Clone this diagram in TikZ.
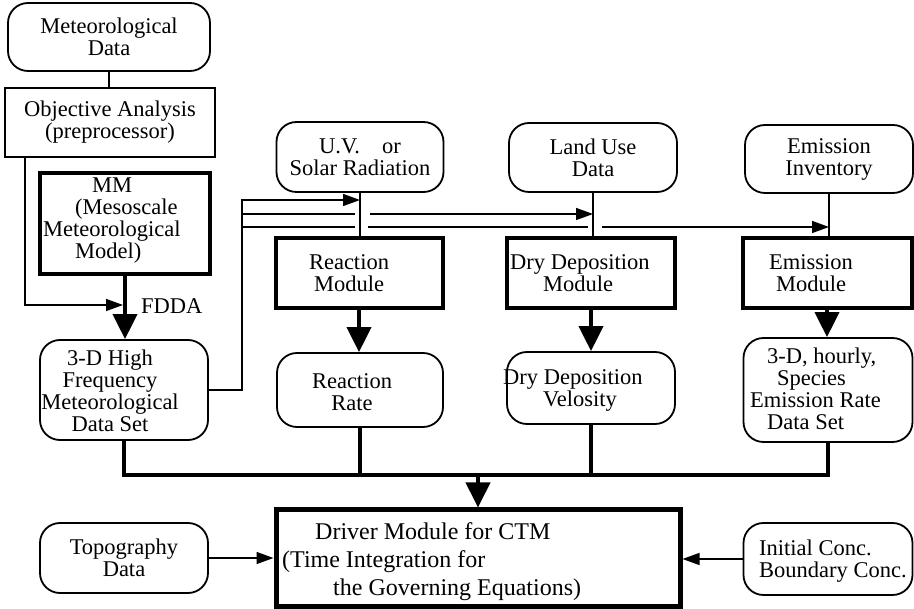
\documentclass[tikz,border=0pt]{standalone}
\usepackage{fontspec}
\setmainfont{Liberation Serif}
\usetikzlibrary{arrows.meta}
\begin{document}
\begin{tikzpicture}[x=1pt,y=-1pt]
\tikzset{
 base/.style={font=\fontsize{22.5}{22}\selectfont, align=center, inner sep=0pt},
 rbox/.style={base, draw, line width=1.8pt, rounded corners=20pt},
 tbox/.style={base, draw, line width=4pt},
 pbox/.style={base, draw, line width=1.6pt},
 txt/.style={base, align=left, anchor=west},
 thinl/.style={line width=1.5pt},
 thickl/.style={line width=4pt},
 tarr/.style={thinl, -{Triangle[length=17pt,width=12pt]}},
 Tarr/.style={thickl, -{Triangle[length=25pt,width=24pt]}},
}
\useasboundingbox (0,0) rectangle (914,609);
% left column
\node[rbox, minimum width=202pt, minimum height=68pt] (met) at (109,37) {Meteorological\\Data};
\node[pbox, minimum width=210pt, minimum height=69pt] (obj) at (110,122.5) {Objective Analysis\\(preprocessor)};
\node[tbox, minimum width=170pt, minimum height=101pt] (mm) at (125,223.5) {};
\node[txt] (mmt) at (43,221) {\hspace*{49pt}MM\\\hspace*{32pt}(Mesoscale\\Meteorological\\\hspace*{32pt}Model)};
\node[rbox, minimum width=168pt, minimum height=100pt] (td) at (124,390) {};
\node[base] (tdt) at (110,391) {3-D High\\Frequency\\Meteorological\\Data Set};
\node[base, anchor=west] (fdda) at (141,306) {FDDA};
% top row
\node[rbox, minimum width=167pt, minimum height=70pt] (uv) at (360,157) {U.V.\hspace{22pt}or\\Solar Radiation};
\node[rbox, minimum width=168pt, minimum height=69pt] (land) at (593,157.5) {Land Use\\Data};
\node[rbox, minimum width=168pt, minimum height=68pt] (emi) at (829,159) {Emission\\Inventory};
% modules
\node[tbox, minimum width=167pt, minimum height=70pt] (rm) at (359,273) {};
\node[base] (rmt) at (349,273) {Reaction\\Module};
\node[tbox, minimum width=168pt, minimum height=70pt] (ddm) at (591,273) {};
\node[txt] (ddmt) at (510,273) {Dry Deposition\\\hspace*{33pt}Module};
\node[tbox, minimum width=169pt, minimum height=70pt] (em) at (827,273) {};
\node[base] (emt) at (811,273) {Emission\\Module};
% results
\node[rbox, minimum width=166pt, minimum height=74pt] (rr) at (360,390) {};
\node[base] (rrt) at (352,392) {Reaction\\Rate};
\node[rbox, minimum width=168pt, minimum height=72pt] (ddv) at (591,388) {};
\node[txt] (ddvt) at (503,390) {Dry Deposition\\\hspace*{40pt}Velosity};
\node[rbox, minimum width=169pt, minimum height=104pt] (hr) at (828,390) {};
\node[txt] (hrt) at (750,389) {\hspace*{17pt}3-D, hourly,\\\hspace*{27pt}Species\\Emission Rate\\\hspace*{17pt}Data Set};
% bottom row
\node[rbox, minimum width=168pt, minimum height=70pt] (topo) at (124,558) {Topography\\Data};
\node[base, draw, line width=5pt, minimum width=404pt, minimum height=97pt] (drv) at (478,558.5) {};
\node[txt, font=\fontsize{24}{28}\selectfont] (drvt) at (282,562) {\hspace*{33pt}Driver Module for CTM\\(Time Integration for\\\hspace*{51pt}the Governing Equations)};
\node[rbox, minimum width=169pt, minimum height=72pt] (init) at (828,559) {};
\node[txt] (initt) at (759,561) {Initial Conc.\\Boundary Conc.};
% coordinates
\coordinate (c1) at (25,305);
\coordinate (c2) at (123,305);
\coordinate (v0) at (242,390);
\coordinate (v1) at (242,200);
\coordinate (h1a) at (242,214);
\coordinate (h1b) at (355,214);
\coordinate (h1c) at (370,214);
\coordinate (h2a) at (242,227);
\coordinate (h2b) at (355,227);
\coordinate (h2c) at (368,227);
\coordinate (h2d) at (588,227);
\coordinate (h2e) at (602,227);
\coordinate (b1) at (125,475);
% connectors left
\draw[thinl] (met.south) -- (met.south |- obj.north);
\draw[tarr] (obj.south -| c1) -- (c1) -- (c2);
\draw[Tarr] (mm.south) -- (mm.south |- td.north);
% feed lines
\draw[tarr] (td.east) -- (v0) -- (v1) -- (v1 -| uv.south);
\draw[thinl] (h1a) -- (h1b);
\draw[tarr] (h1c) -- (h1c -| land.south);
\draw[thinl] (h2a) -- (h2b);
\draw[thinl] (h2c) -- (h2d);
\draw[tarr] (h2e) -- (h2e -| emi.south);
\draw[thinl] (uv.south) -- (uv.south |- rm.north);
\draw[thinl] (land.south) -- (land.south |- ddm.north);
\draw[thinl] (emi.south) -- (emi.south |- em.north);
% module outputs
\draw[Tarr] (rm.south) -- (rm.south |- rr.north);
\draw[Tarr] (ddm.south) -- (ddm.south |- ddv.north);
\draw[Tarr] (em.south) -- (em.south |- hr.north);
% bus
\draw[thickl] (td.south) -- (td.south |- b1) -- (hr.south |- b1) -- (hr.south);
\draw[thickl] (rr.south) -- (rr.south |- b1);
\draw[thickl] (ddv.south) -- (ddv.south |- b1);
\draw[Tarr] (drv.north |- b1) -- (drv.north);
\draw[tarr] (topo.east) -- (drv.west |- topo.east);
\draw[tarr] (init.west) -- (drv.east |- init.west);
\end{tikzpicture}
\end{document}
